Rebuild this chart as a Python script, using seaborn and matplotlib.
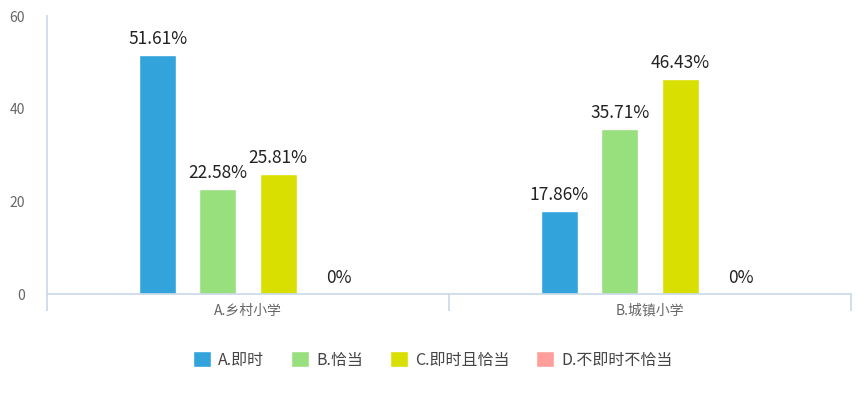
import matplotlib
matplotlib.use("Agg")
import matplotlib.pyplot as plt
import seaborn as sns
import pandas as pd

# chart data
schools = ["A.乡村小学", "B.城镇小学"]
options = ["A.即时", "B.恰当", "C.即时且恰当", "D.不即时不恰当"]
rural = [51.61, 22.58, 25.81, 0]
urban = [17.86, 35.71, 46.43, 0]
colors = ["#33A3DC", "#98DF7E", "#D9DF00", "#FF9E9B"]
yticks = [0, 20, 40, 60]

sns.set_theme(style="white")
plt.rcParams["font.family"] = ["Noto Sans CJK SC", "DejaVu Sans"]

rows = []
for opt, a, b in zip(options, rural, urban):
    rows.append({"school": schools[0], "option": opt, "value": a})
    rows.append({"school": schools[1], "option": opt, "value": b})
df = pd.DataFrame(rows)

fig = plt.figure(figsize=(8.68, 3.96), dpi=100)
ax = fig.add_axes([47 / 868, 102 / 396, 804 / 868, 278 / 396])

sns.barplot(data=df, x="school", y="value", hue="option", order=schools,
            hue_order=options, palette=colors, width=0.6, gap=0.39,
            saturation=1, ax=ax, legend=True)

for cont in ax.containers:
    ax.bar_label(cont, labels=[f"{v:g}%" for v in cont.datavalues],
                 padding=5, fontsize=12.5, color="#222222")

axis_col = "#C9D8E8"
ax.set_xlim(-0.5, 1.5)
ax.set_ylim(0, 60)
ax.set_yticks(yticks)
ax.set_xlabel("")
ax.set_ylabel("")
for side in ["top", "right"]:
    ax.spines[side].set_visible(False)
for side in ["left", "bottom"]:
    ax.spines[side].set_color(axis_col)
    ax.spines[side].set_linewidth(1.2)

ax.tick_params(axis="y", length=0, labelsize=10, labelcolor="#666666", pad=16)
ax.tick_params(axis="x", which="major", length=0, labelsize=10,
               labelcolor="#666666", pad=7)
ax.set_xticks([-0.5, 0.5, 1.5], minor=True)
ax.tick_params(axis="x", which="minor", bottom=True, length=12, width=1.2,
               color=axis_col, direction="out")

ax.legend(loc="upper center", bbox_to_anchor=(0.48, -0.155), ncol=4,
          frameon=False, fontsize=11.5, handlelength=1.1, handleheight=1.1,
          columnspacing=1.7, handletextpad=0.45, labelcolor="#444444")

fig.savefig("out.png", dpi=100)
